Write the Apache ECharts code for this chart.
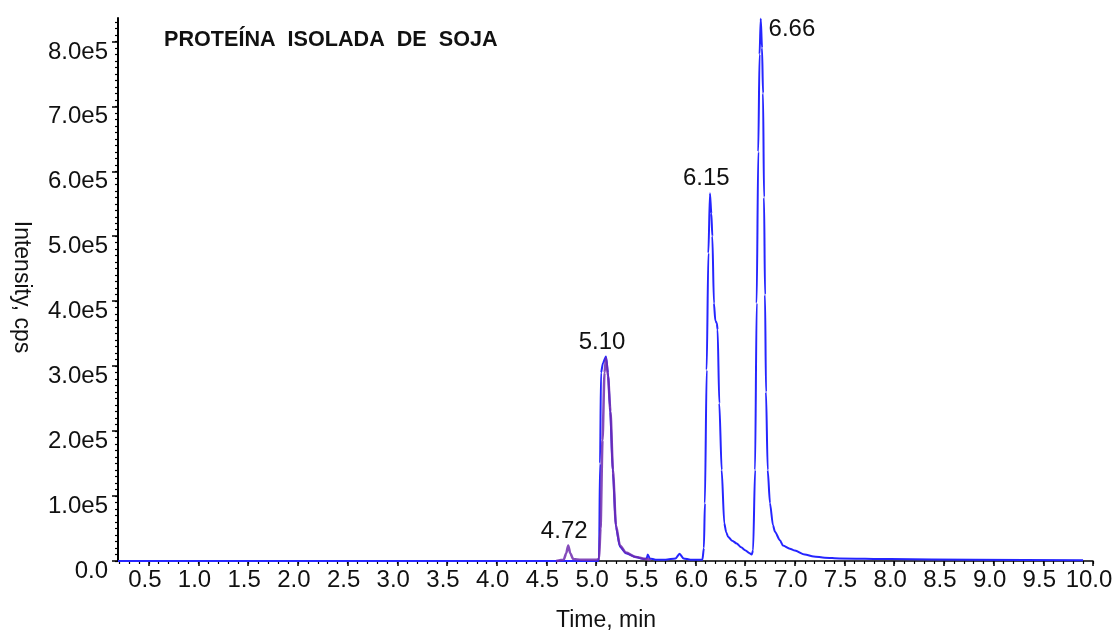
<!DOCTYPE html>
<html>
<head>
<meta charset="utf-8">
<script src="https://cdn.jsdelivr.net/npm/echarts@6/dist/echarts.min.js"></script>
<style>
  html, body { margin: 0; padding: 0; background: #fff; }
  #chart { width: 1116px; height: 632px; }
</style>
</head>
<body>
<div id="chart"></div>
<script>
// retention time (min) / intensity (cps)
var blueTime = [0.19, 5.02, 5.03, 5.04, 5.05, 5.07, 5.10, 5.12, 5.14, 5.17, 5.20, 5.24, 5.30, 5.40, 5.48, 5.51, 5.52, 5.54, 5.60, 5.70, 5.80, 5.84, 5.88, 5.95, 6.07,
  6.085, 6.095, 6.113, 6.13, 6.146, 6.16, 6.17, 6.186, 6.20, 6.215, 6.223, 6.24, 6.264, 6.29, 6.31, 6.33, 6.37, 6.415, 6.46, 6.50, 6.54, 6.566,
  6.58, 6.60, 6.616, 6.632, 6.645, 6.657, 6.67, 6.68, 6.69, 6.70, 6.71, 6.727, 6.75, 6.78, 6.80, 6.85, 6.88, 6.95, 7.00, 7.10, 7.19, 7.30, 7.45, 7.96, 8.80, 9.90];
var blueInt = [0, 0, 5000, 150000, 290000, 305000, 315000, 290000, 237000, 135000, 52000, 22000, 12000, 6000, 3000, 4000, 10000, 4000, 2000, 2000, 4000, 11000, 4000, 2000, 2000,
  20000, 89000, 294000, 474000, 566000, 535000, 500000, 397000, 370000, 366000, 356000, 243000, 140000, 58000, 44000, 37000, 31000, 27000, 21000, 16500, 12500, 10000,
  16500, 140000, 397000, 630000, 780000, 835000, 790000, 720000, 560000, 410000, 260000, 140000, 89000, 55000, 45000, 32000, 24000, 19000, 16000, 10000, 7000, 5000, 4000, 3000, 2000, 1000];

var purpleTime = [4.60, 4.675, 4.70, 4.72, 4.74, 4.77, 4.85, 5.00, 5.03, 5.045, 5.065, 5.085, 5.10, 5.12, 5.145, 5.17, 5.20, 5.24, 5.30, 5.40, 5.50, 5.55];
var purpleInt = [0, 2000, 12000, 24000, 12000, 3000, 2000, 2000, 3000, 50000, 186000, 290000, 312000, 285000, 230000, 140000, 55000, 24000, 13000, 6000, 3000, 2000];

var peakTimes = [4.72, 5.10, 6.15, 6.66];
var peakHeights = [24000, 315000, 566000, 835000];
var peakText = ['4.72', '5.10', '6.15', '6.66'];

var xTicks = [0.5, 1.0, 1.5, 2.0, 2.5, 3.0, 3.5, 4.0, 4.5, 5.0, 5.5, 6.0, 6.5, 7.0, 7.5, 8.0, 8.5, 9.0, 9.5, 10.0];
var yTicks = [0, 100000, 200000, 300000, 400000, 500000, 600000, 700000, 800000];

var font = '"Liberation Sans", Arial, sans-serif';
var ink = '#111';

function zip(a, b) {
  var out = [];
  for (var i = 0; i < a.length; i++) out.push([a[i], b[i]]);
  return out;
}

// small ticks every 0.1 min and every 0.1e5 cps
var xMinor = [];
for (var i = 2; i <= 100; i++) xMinor.push(i / 10);
var yMinor = [];
for (var j = 0; j <= 83; j++) yMinor.push(j * 10000);

var chart = echarts.init(document.getElementById('chart'), null, { renderer: 'canvas' });

var peakData = [];
for (var k = 0; k < peakTimes.length; k++) {
  var item = { value: [peakTimes[k], peakHeights[k]], name: peakText[k] };
  if (k === peakTimes.length - 1) {
    item.label = { position: 'right', distance: 7, offset: [0, 11] };
  }
  peakData.push(item);
}

var option = {
  animation: false,
  title: {
    text: 'PROTEÍNA  ISOLADA  DE  SOJA',
    left: 159,
    top: 24,
    textStyle: { fontFamily: font, fontSize: 21.6, fontWeight: 'bold', color: ink }
  },
  grid: { left: 118, right: 23, top: 18, bottom: 71, containLabel: false },
  xAxis: [{
    type: 'value',
    min: 0.19,
    max: 10.0,
    axisLine: { show: true, lineStyle: { color: '#000', width: 1.5 } },
    axisTick: { show: true, customValues: xTicks, length: 5, lineStyle: { color: '#000', width: 1.5 } },
    axisLabel: {
      customValues: xTicks,
      margin: 7,
      padding: [0, 8, 0, 0],
      fontFamily: font, fontSize: 24, color: ink,
      formatter: function (v) { return v.toFixed(1); }
    },
    splitLine: { show: false }
  }, {
    type: 'value',
    min: 0.19,
    max: 10.0,
    position: 'bottom',
    axisLine: { show: false },
    axisTick: { show: true, customValues: xMinor, length: 3, lineStyle: { color: '#000', width: 1.2 } },
    axisLabel: { show: false },
    splitLine: { show: false }
  }],
  yAxis: [{
    type: 'value',
    min: 0,
    max: 836000,
    axisLine: { show: true, lineStyle: { color: '#000', width: 2 } },
    axisTick: { show: true, customValues: yTicks, length: 6, lineStyle: { color: '#000', width: 1.5 } },
    axisLabel: {
      customValues: yTicks,
      margin: 10,
      verticalAlign: 'top',
      lineHeight: 21,
      fontFamily: font, fontSize: 24, color: ink,
      formatter: function (v) { return v === 0 ? '0.0' : (v / 100000).toFixed(1) + 'e5'; }
    },
    splitLine: { show: false }
  }, {
    type: 'value',
    min: 0,
    max: 836000,
    position: 'left',
    axisLine: { show: false },
    axisTick: { show: true, customValues: yMinor, length: 3, lineStyle: { color: '#000', width: 1.2 } },
    axisLabel: { show: false },
    splitLine: { show: false }
  }],
  graphic: [{
    type: 'text',
    x: 21, y: 287,
    rotation: -Math.PI / 2,
    style: { text: 'Intensity, cps', font: '23px ' + font, fill: ink, align: 'center', verticalAlign: 'middle' }
  }, {
    type: 'text',
    x: 606, y: 621,
    style: { text: 'Time, min', font: '23px ' + font, fill: ink, align: 'center', verticalAlign: 'middle' }
  }],
  series: [{
    name: 'blue',
    type: 'line',
    data: zip(blueTime, blueInt),
    showSymbol: false,
    symbol: 'none',
    clip: false,
    smooth: 0.25,
    smoothMonotone: 'x',
    lineStyle: { color: '#2525ff', width: 2 },
    z: 3
  }, {
    name: 'purple',
    type: 'line',
    data: zip(purpleTime, purpleInt),
    showSymbol: false,
    symbol: 'none',
    clip: false,
    smooth: 0.25,
    smoothMonotone: 'x',
    lineStyle: { color: 'rgba(112,44,175,0.85)', width: 2.5 },
    z: 4
  }, {
    name: 'peaks',
    type: 'scatter',
    data: peakData,
    symbolSize: 1,
    itemStyle: { color: 'rgba(0,0,0,0)' },
    label: {
      show: true,
      position: 'top',
      distance: 2,
      offset: [-4, 0],
      opacity: 1,
      textBorderWidth: 0,
      formatter: function (p) { return p.name; },
      fontFamily: font, fontSize: 24, color: ink
    },
    emphasis: { disabled: true },
    silent: true,
    z: 5
  }]
};

chart.setOption(option);
</script>
</body>
</html>
